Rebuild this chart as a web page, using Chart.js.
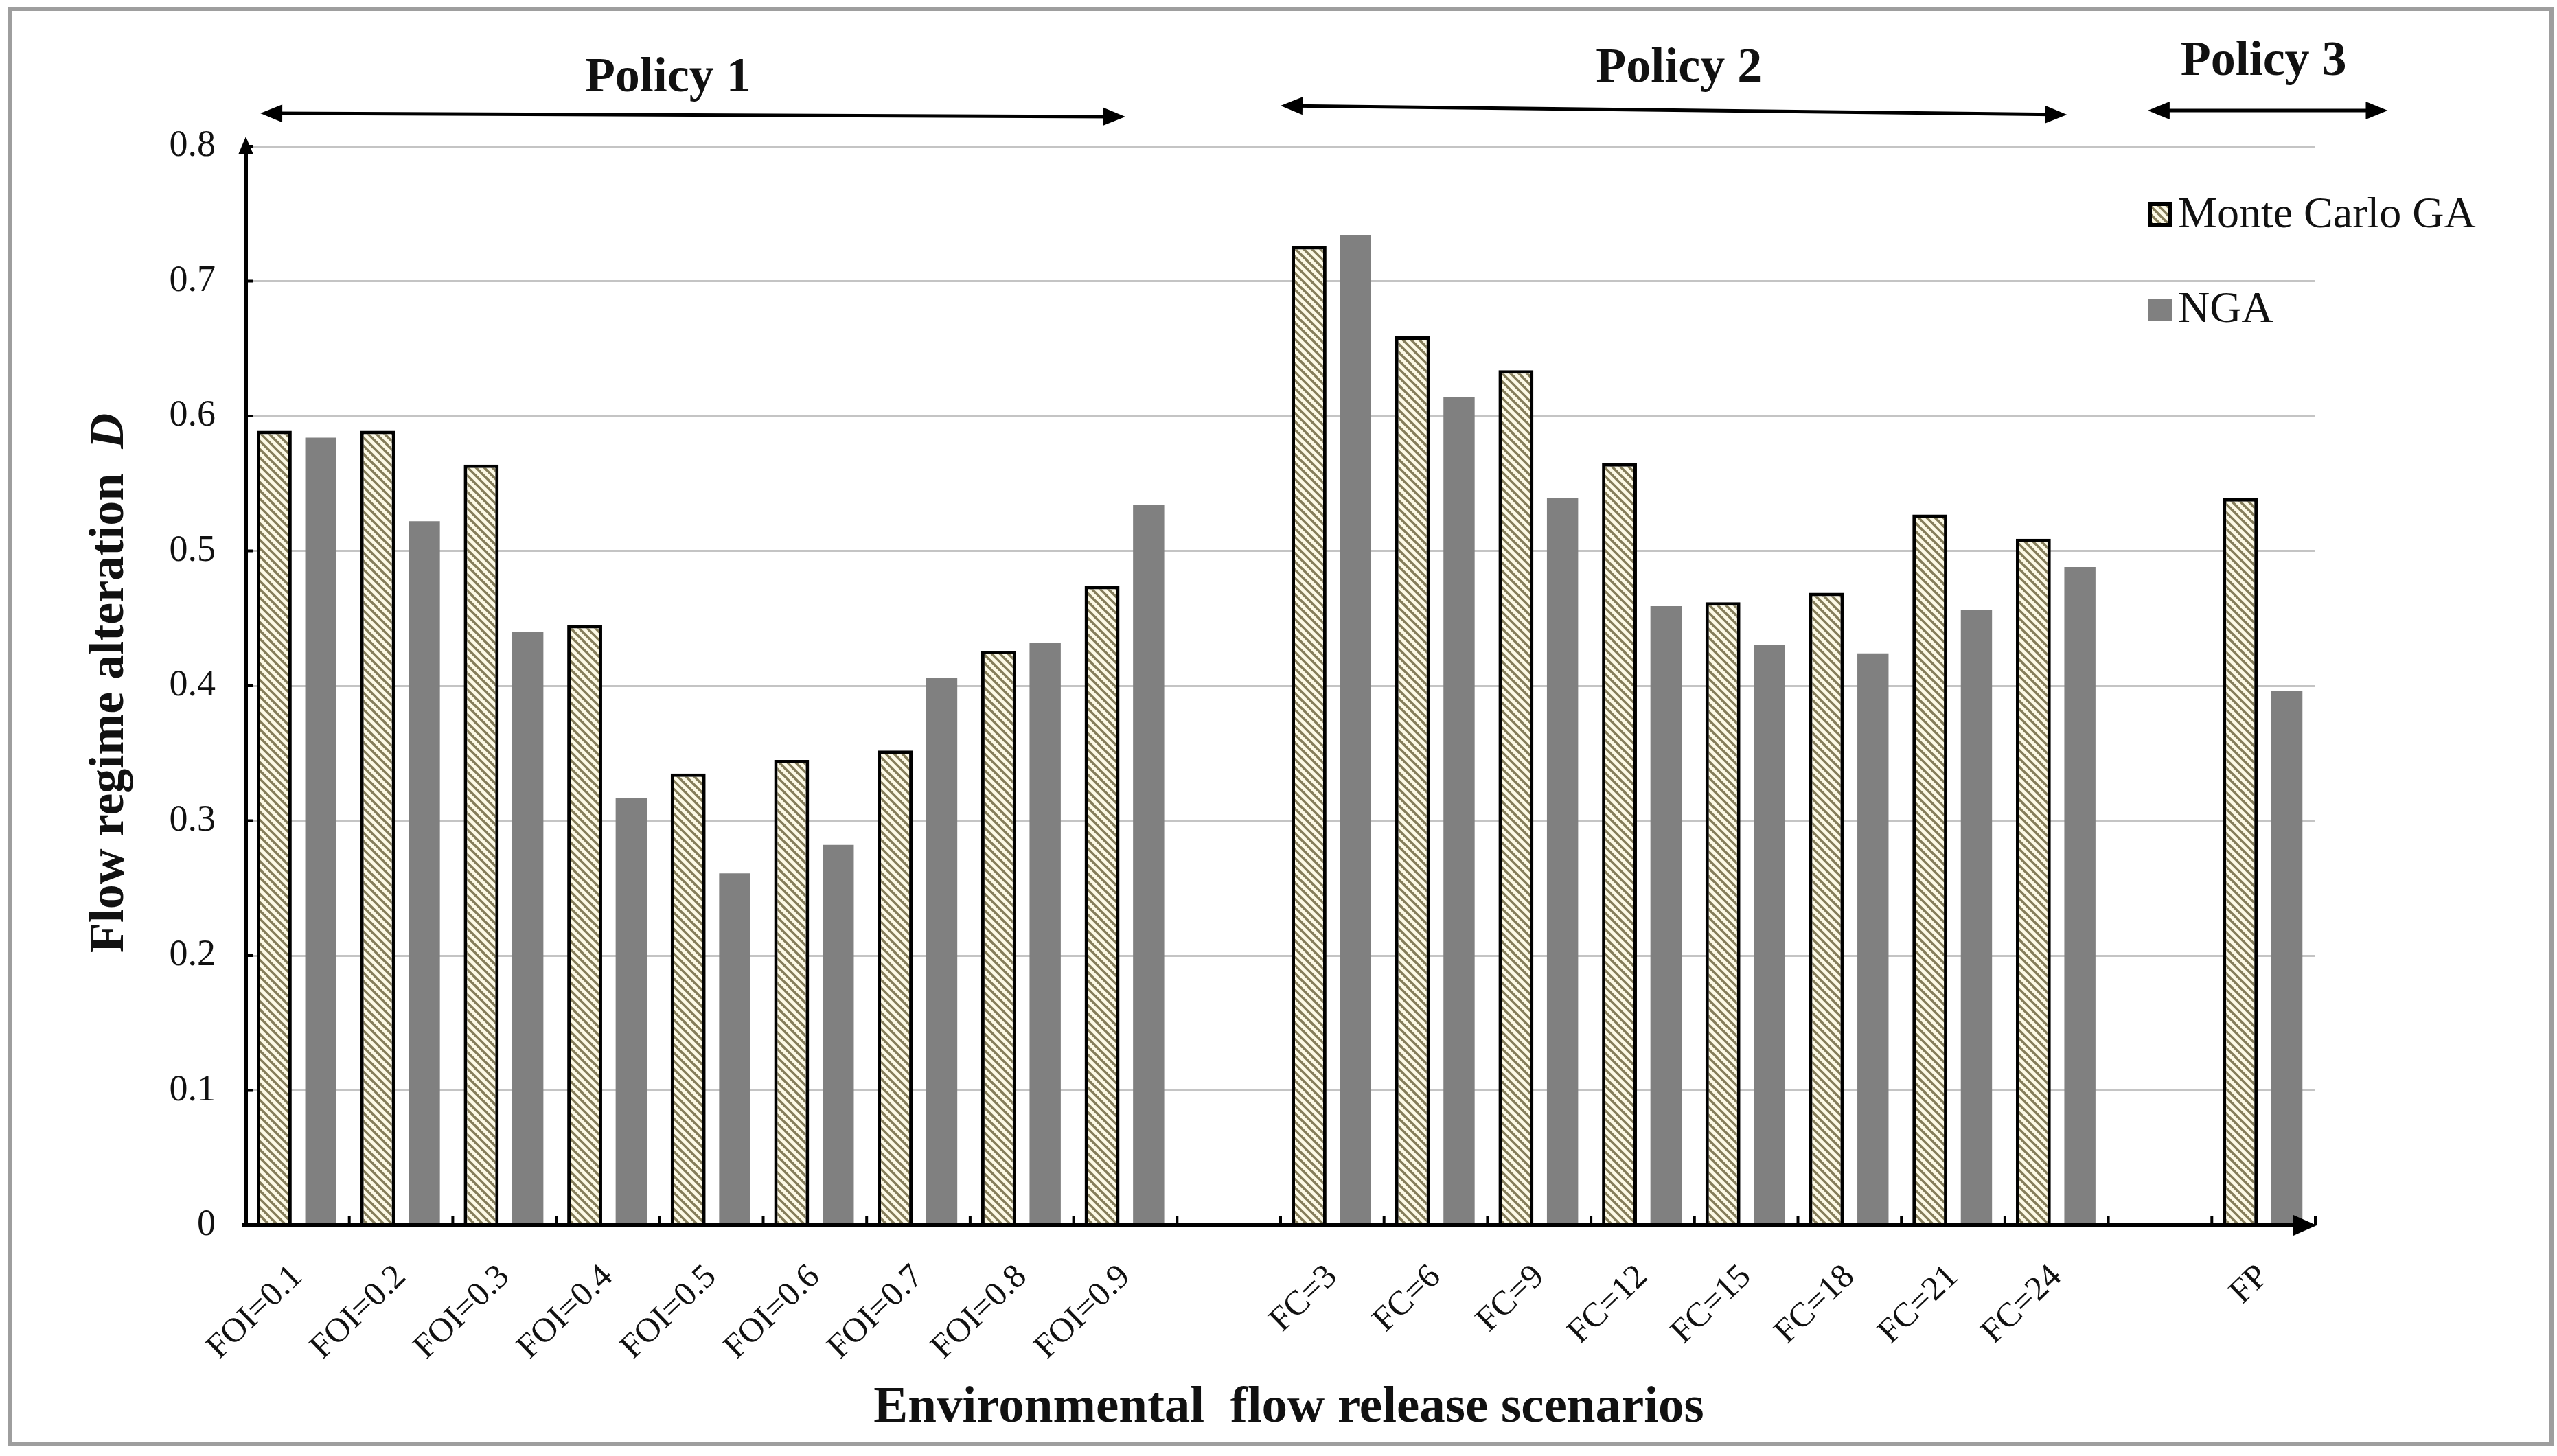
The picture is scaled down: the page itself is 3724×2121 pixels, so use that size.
<!DOCTYPE html>
<html>
<head>
<meta charset="utf-8">
<script src="https://cdn.jsdelivr.net/npm/chart.js@4.4.0/dist/chart.umd.min.js"></script>
<style>
html, body { margin: 0; padding: 0; background: #fff; }
canvas { display: block; }
</style>
</head>
<body>
<canvas id="flowChart" width="3724" height="2121"></canvas>
<script>
// scenarios, blank entries are the gaps between policies
const scenarios = ['FOI=0.1', 'FOI=0.2', 'FOI=0.3', 'FOI=0.4', 'FOI=0.5', 'FOI=0.6', 'FOI=0.7', 'FOI=0.8', 'FOI=0.9', '',
    'FC=3', 'FC=6', 'FC=9', 'FC=12', 'FC=15', 'FC=18', 'FC=21', 'FC=24', '', 'FP'];
const monteCarloGA = [0.589, 0.589, 0.564, 0.445, 0.335, 0.345, 0.352, 0.426, 0.474, null,
    0.726, 0.659, 0.634, 0.565, 0.462, 0.469, 0.527, 0.509, null, 0.539];
const nga = [0.584, 0.522, 0.440, 0.317, 0.261, 0.282, 0.406, 0.432, 0.534, null,
    0.734, 0.614, 0.539, 0.459, 0.430, 0.424, 0.456, 0.488, null, 0.396];
const yTickLabels = ['0', '0.1', '0.2', '0.3', '0.4', '0.5', '0.6', '0.7', '0.8'];
const policyNames = ['Policy 1', 'Policy 2', 'Policy 3'];

// where the policy headers sit, in category units
const policyTextAt = [3.58, 13.35, 19.0];
const policyTextY = [133, 119, 109];
const policyArrows = [[-0.36, 8.0, 165, 170], [9.5, 17.1, 154, 167], [17.88, 20.2, 161, 161]];

const SERIF = '"Liberation Serif", "Times New Roman", serif';
const INK = '#111';

function hatch() {
    const c = document.createElement('canvas');
    c.width = 12; c.height = 12;
    const g = c.getContext('2d');
    g.fillStyle = '#fdfae6';
    g.fillRect(0, 0, 12, 12);
    g.strokeStyle = '#857d5a';
    g.lineWidth = 3.6;
    g.beginPath();
    g.moveTo(-3, -3); g.lineTo(15, 15);
    g.moveTo(-3, 9); g.lineTo(3, 15);
    g.moveTo(9, -3); g.lineTo(15, 3);
    g.stroke();
    return g.createPattern(c, 'repeat');
}

function head(ctx, x, y, ang, len, half) {
    ctx.save();
    ctx.translate(x, y);
    ctx.rotate(ang);
    ctx.beginPath();
    ctx.moveTo(0, 0);
    ctx.lineTo(-len, -half);
    ctx.lineTo(-len, half);
    ctx.closePath();
    ctx.fill();
    ctx.restore();
}

const HATCH = hatch();

const decor = {
    id: 'decor',
    beforeDraw(chart) {
        const ctx = chart.ctx;
        ctx.save();
        ctx.fillStyle = '#fff';
        ctx.fillRect(0, 0, chart.width, chart.height);
        ctx.restore();
    },
    afterDraw(chart) {
        const ctx = chart.ctx;
        const a = chart.chartArea;
        const xs = chart.scales.x;
        const ys = chart.scales.y;
        const w = xs.getPixelForValue(1) - xs.getPixelForValue(0);
        ctx.save();
        ctx.strokeStyle = '#000';
        ctx.fillStyle = '#000';

        // y axis with arrow
        ctx.lineWidth = 6;
        ctx.beginPath();
        ctx.moveTo(a.left, a.bottom + 3);
        ctx.lineTo(a.left, a.top - 5);
        ctx.stroke();
        head(ctx, a.left, a.top - 14, -Math.PI / 2, 26, 11);
        // x axis with arrow
        ctx.beginPath();
        ctx.moveTo(a.left - 6, a.bottom);
        ctx.lineTo(a.right - 10, a.bottom);
        ctx.stroke();
        head(ctx, a.right + 2, a.bottom, 0, 34, 15);

        // tick marks
        ctx.lineWidth = 4;
        ctx.beginPath();
        for (let k = 1; k <= scenarios.length; k++) {
            const x = xs.getPixelForValue(k) - w / 2;
            ctx.moveTo(x, a.bottom);
            ctx.lineTo(x, a.bottom - 13);
        }
        for (let i = 1; i < yTickLabels.length; i++) {
            const y = ys.getPixelForValue(i / 10);
            ctx.moveTo(a.left, y);
            ctx.lineTo(a.left + 10, y);
        }
        ctx.stroke();

        // policy headers and double arrows
        ctx.textAlign = 'center';
        ctx.textBaseline = 'alphabetic';
        policyNames.forEach((name, i) => {
            ctx.fillStyle = INK;
            ctx.font = 'bold 72px ' + SERIF;
            ctx.fillText(name, xs.getPixelForValue(policyTextAt[i]), policyTextY[i]);
            const [s, e, y1, y2] = policyArrows[i];
            const x1 = xs.getPixelForValue(s), x2 = xs.getPixelForValue(e);
            const ang = Math.atan2(y2 - y1, x2 - x1);
            ctx.strokeStyle = '#000';
            ctx.fillStyle = '#000';
            ctx.lineWidth = 5;
            ctx.beginPath();
            ctx.moveTo(x1 + 20 * Math.cos(ang), y1 + 20 * Math.sin(ang));
            ctx.lineTo(x2 - 20 * Math.cos(ang), y2 - 20 * Math.sin(ang));
            ctx.stroke();
            head(ctx, x2, y2, ang, 32, 13);
            head(ctx, x1, y1, ang + Math.PI, 32, 13);
        });

        // legend
        const lx = 3128;
        ctx.fillStyle = HATCH;
        ctx.fillRect(lx, 294, 36, 37);
        ctx.strokeStyle = '#000';
        ctx.lineWidth = 6;
        ctx.strokeRect(lx + 3, 297, 30, 31);
        ctx.fillStyle = '#808080';
        ctx.fillRect(lx, 436, 35, 32);
        ctx.fillStyle = INK;
        ctx.font = '64px ' + SERIF;
        ctx.textAlign = 'left';
        ctx.textBaseline = 'middle';
        ctx.fillText(chart.data.datasets[0].label, lx + 44, 314);
        ctx.fillText(chart.data.datasets[1].label, lx + 44, 452);

        // x axis title
        ctx.font = 'bold 75px ' + SERIF;
        ctx.textAlign = 'center';
        ctx.fillText('Environmental  flow release scenarios', 1877, 2052);

        // y axis title, D in italics
        ctx.save();
        ctx.translate(160, 995);
        ctx.rotate(-Math.PI / 2);
        const part1 = 'Flow regime alteration  ';
        ctx.font = 'bold 72px ' + SERIF;
        const w1 = ctx.measureText(part1).width;
        ctx.font = 'bold italic 72px ' + SERIF;
        const w2 = ctx.measureText('D').width;
        ctx.textAlign = 'left';
        ctx.font = 'bold 72px ' + SERIF;
        ctx.fillText(part1, -(w1 + w2) / 2, 0);
        ctx.font = 'bold italic 72px ' + SERIF;
        ctx.fillText('D', -(w1 + w2) / 2 + w1, 0);
        ctx.restore();

        // outer frame
        ctx.strokeStyle = '#9e9e9e';
        ctx.lineWidth = 6;
        ctx.strokeRect(14, 13, 3702, 2091);
        ctx.restore();
    }
};

const CTX = document.getElementById('flowChart').getContext('2d');
window.onload = function() {
    new Chart(CTX, {
        type: 'bar',
        data: {
            labels: scenarios,
            datasets: [{
                label: 'Monte Carlo GA',
                data: monteCarloGA,
                backgroundColor: HATCH,
                borderColor: '#000',
                borderWidth: 5,
                categoryPercentage: 0.9,
                barPercentage: 0.75
            }, {
                label: 'NGA',
                data: nga,
                backgroundColor: '#808080',
                borderWidth: 0,
                categoryPercentage: 0.9,
                barPercentage: 0.67
            }]
        },
        options: {
            responsive: false,
            animation: false,
            devicePixelRatio: 1,
            layout: { padding: { top: 213, right: 352, left: 0, bottom: 0 } },
            plugins: {
                legend: { display: false },
                tooltip: { enabled: false }
            },
            scales: {
                x: {
                    grid: { display: false, drawTicks: false },
                    border: { display: false },
                    ticks: {
                        autoSkip: false,
                        minRotation: 44,
                        maxRotation: 44,
                        padding: 46,
                        color: INK,
                        font: { family: SERIF, size: 50 }
                    },
                    afterFit: s => { s.height = 336; }
                },
                y: {
                    min: 0,
                    max: 0.8,
                    grid: { color: '#c4c4c4', lineWidth: 3, drawTicks: false },
                    border: { display: false },
                    ticks: {
                        stepSize: 0.1,
                        padding: 44,
                        color: INK,
                        font: { family: SERIF, size: 54 },
                        callback: (v, i) => yTickLabels[i]
                    },
                    afterFit: s => { s.width = 358; }
                }
            }
        },
        plugins: [decor]
    });
};
</script>
</body>
</html>
